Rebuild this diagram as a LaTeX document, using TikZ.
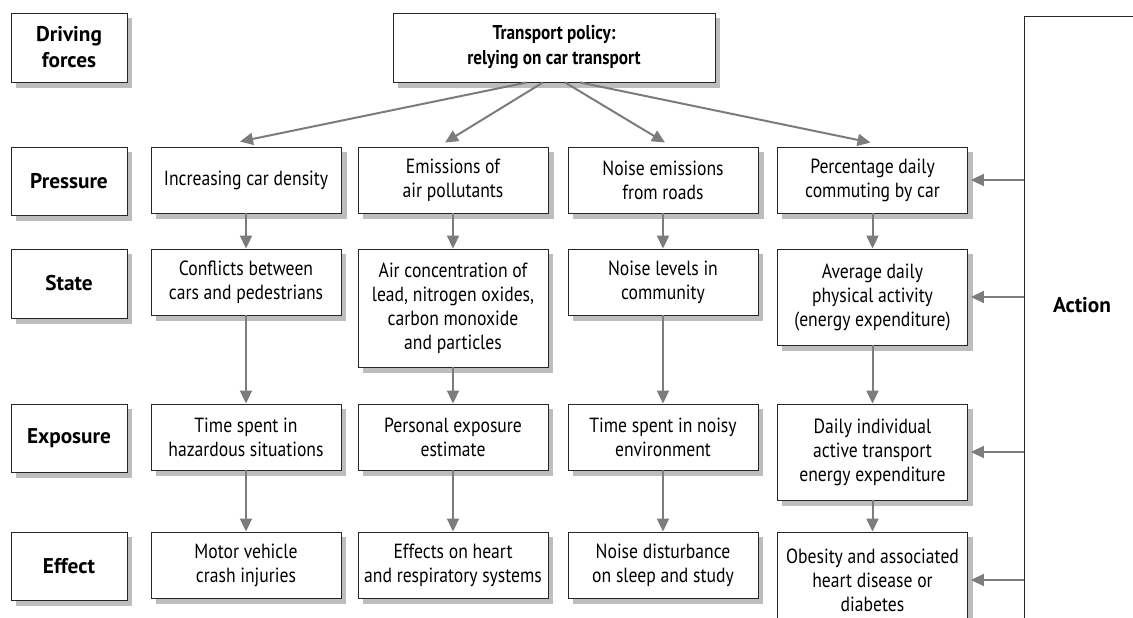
\documentclass[tikz,border=0pt]{standalone}
\usepackage{fontspec}
\setmainfont[FakeStretch=0.86]{PT Sans}
\newfontfamily\lblfont{PT Sans}
\usetikzlibrary{arrows.meta,calc}
\definecolor{shadowgray}{HTML}{BDBDBD}
\definecolor{arrowgray}{HTML}{7C7C7C}
\tikzset{
  box/.style={draw=black!85, line width=0.9pt, fill=white, inner sep=0pt, align=center,
    minimum width=190pt, minimum height=66pt,
    font=\fontsize{20.5}{24}\selectfont},
  lbl/.style={box, minimum width=116pt, minimum height=68pt, font=\lblfont\fontsize{21.3}{26}\selectfont\bfseries},
  pol/.style={box, minimum width=322pt, minimum height=69pt, font=\fontsize{20}{25}\selectfont\bfseries},
  arr/.style={draw=arrowgray, line width=2pt, -{Triangle[length=13pt,width=12pt]}},
  shad/.style={fill=shadowgray, draw=none},
}
\begin{document}
\begin{tikzpicture}[x=1pt,y=-1pt]
\useasboundingbox (0,0) rectangle (1133,618);
% shadows (drawn first, offset 5 right / 6 down from each box)
\fill[shad] (16,18) rectangle (132,88);
\fill[shad] (16,152) rectangle (132,221);
\fill[shad] (16,254) rectangle (132,324);
\fill[shad] (16,409) rectangle (132,478);
\fill[shad] (16,537) rectangle (132,606);
\fill[shad] (398,18) rectangle (720,88);
\foreach \cx in {151,358,568,777}{
  \fill[shad] (\cx+5,152) rectangle (\cx+196,219);
}
\fill[shad] (156,254) rectangle (346,321);
\fill[shad] (363,254) rectangle (553,373);
\fill[shad] (573,254) rectangle (763,321);
\fill[shad] (782,254) rectangle (973,351);
\foreach \cx in {151,358,568}{
  \fill[shad] (\cx+5,409) rectangle (\cx+195,476);
  \fill[shad] (\cx+5,537) rectangle (\cx+195,604);
}
\fill[shad] (782,409) rectangle (973,506);
\fill[shad] (782,537) rectangle (973,640);
% Action box
\draw[black!85, line width=0.9pt] (1140,16) -- (1024,16) -- (1024,640);
\coordinate (action) at (1024,16);
\node[font=\lblfont\fontsize{21.3}{26}\selectfont\bfseries] (actiontxt) at (1082,305) {Action};
% labels
\node[lbl, minimum height=69pt] (ldf) at (69,47.5) {Driving\\forces};
\node[lbl] (lpr) at (69,181) {Pressure};
\node[lbl, minimum height=69pt] (lst) at (69,283.5) {State};
\node[lbl] (lex) at (69,438) {Exposure};
\node[lbl] (lef) at (69,566) {Effect};
% policy
\node[pol] (policy) at (554,47.5) {Transport policy:\\relying on car transport};
% column 1
\node[box] (p1) at (246,180) {Increasing car density};
\node[box] (s1) at (246,282) {Conflicts between\\cars and pedestrians};
\node[box] (e1) at (246,437) {Time spent in\\hazardous situations};
\node[box] (f1) at (246,565) {Motor vehicle\\crash injuries};
% column 2
\node[box] (p2) at (453,180) {Emissions of\\air pollutants};
\node[box, minimum height=118pt] (s2) at (453,308) {Air concentration of\\lead, nitrogen oxides,\\carbon monoxide\\and particles};
\node[box] (e2) at (453,437) {Personal exposure\\estimate};
\node[box] (f2) at (453,565) {Effects on heart\\and respiratory systems};
% column 3
\node[box] (p3) at (663,180) {Noise emissions\\from roads};
\node[box] (s3) at (663,282) {Noise levels in\\community};
\node[box] (e3) at (663,437) {Time spent in noisy\\environment};
\node[box] (f3) at (663,565) {Noise disturbance\\on sleep and study};
% column 4
\node[box] (p4) at (872.5,180) {Percentage daily\\commuting by car};
\node[box, minimum height=96pt] (s4) at (872.5,297) {Average daily\\physical activity\\(energy expenditure)};
\node[box, minimum height=96pt] (e4) at (872.5,452) {Daily individual\\active transport\\energy expenditure};
\node[box, minimum height=96pt] (f4) at (872.5,580) {Obesity and associated\\heart disease or\\diabetes};
% arrows from policy
\draw[arr] ($(policy.south)+(-27,0)$) -- ($(p1.north)+(-6,-5)$);
\draw[arr] ($(policy.south)+(-11,0)$) -- ($(p2.north)+(-8,-4)$);
\draw[arr] ($(policy.south)+(11,0)$) -- ($(p3.north)+(2,-4)$);
\draw[arr] ($(policy.south)+(26,0)$) -- ($(p4.north)+(-2,-4)$);
% vertical arrows
\foreach \c in {1,2,3,4}{
  \draw[arr] (p\c.south) -- (s\c.north);
  \draw[arr] (s\c.south) -- (e\c.north);
  \draw[arr] (e\c.south) -- (f\c.north);
}
% action arrows
\foreach \n in {p4,s4,e4,f4}{
  \draw[arr, shorten >=3pt] (action |- \n.east) -- (\n.east);
}
\end{tikzpicture}
\end{document}
